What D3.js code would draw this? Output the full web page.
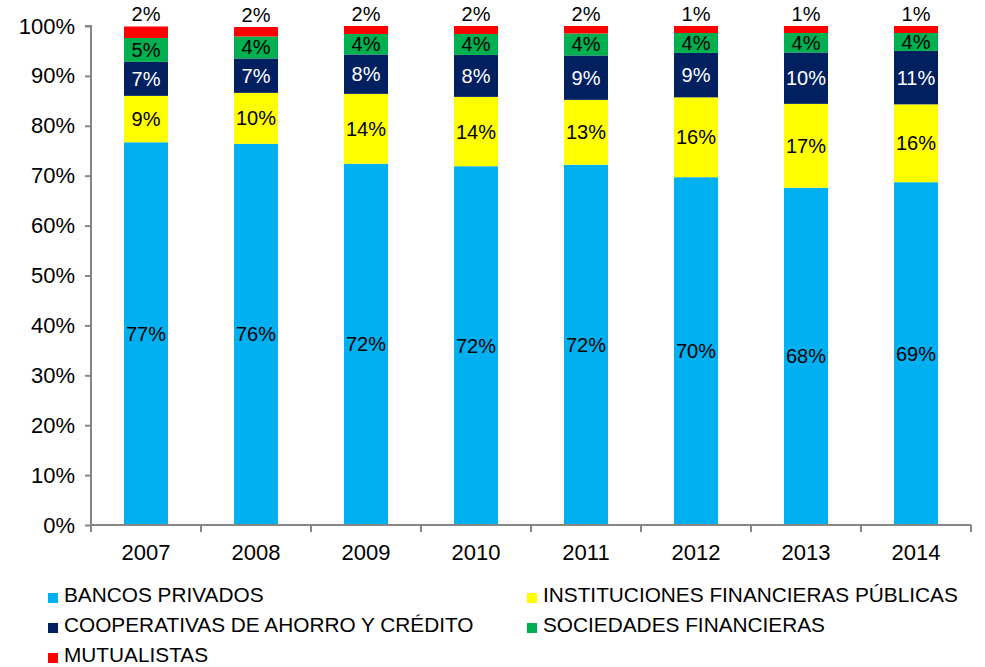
<!DOCTYPE html>
<html>
<head>
<meta charset="utf-8">
<script src="https://cdn.jsdelivr.net/npm/d3@7"></script>
<style>
  body { margin: 0; background: #fff; }
  text { font-family: "Liberation Sans", Arial, sans-serif; }
</style>
</head>
<body>
<div id="chart"></div>
<script>
var years = ["2007", "2008", "2009", "2010", "2011", "2012", "2013", "2014"];
var series = ["BANCOS PRIVADOS", "INSTITUCIONES FINANCIERAS PÚBLICAS", "COOPERATIVAS DE AHORRO Y CRÉDITO", "SOCIEDADES FINANCIERAS", "MUTUALISTAS"];
var colors = ["#00B0F0", "#FFFF00", "#002060", "#00B050", "#FF0000"];

// percentages per year
var bancos = [76.7, 76.4, 72.4, 71.9, 72.2, 69.7, 67.6, 68.7];
var instituciones = [9.3, 10.2, 14.0, 13.9, 13.0, 16.0, 16.8, 15.6];
var cooperativas = [6.8, 6.9, 7.9, 8.4, 8.9, 8.9, 10.3, 10.7];
var sociedades = [4.8, 4.4, 4.1, 4.2, 4.4, 4.0, 3.9, 3.6];
var mutualistas = [2.3, 1.9, 1.6, 1.6, 1.6, 1.4, 1.4, 1.4];

var yTicks = [0, 10, 20, 30, 40, 50, 60, 70, 80, 90, 100];

var width = 985, height = 667;
var margin = {top: 26, left: 91, right: 14, bottom: 142};

var svg = d3.select("#chart").append("svg")
    .attr("width", width)
    .attr("height", height);

var rows = years.map(function(y, i){
    return {year: y, s0: bancos[i], s1: instituciones[i], s2: cooperativas[i], s3: sociedades[i], s4: mutualistas[i]};
});
var keys = ["s0", "s1", "s2", "s3", "s4"];
var stacked = d3.stack().keys(keys)(rows);

var x = d3.scaleBand()
    .domain(years)
    .range([margin.left, width - margin.right])
    .paddingInner(0.6)
    .paddingOuter(0.3);

var y = d3.scaleLinear()
    .domain([0, 100])
    .range([height - margin.bottom, margin.top]);

// bars
var layer = svg.selectAll(".layer")
    .data(stacked).enter().append("g")
    .attr("class", "layer")
    .attr("fill", function(d, i){ return colors[i]; });

layer.selectAll("rect")
    .data(function(d){ return d; }).enter().append("rect")
    .attr("x", function(d){ return x(d.data.year); })
    .attr("width", x.bandwidth())
    .attr("y", function(d){ return y(Math.min(d[1], 100)); })
    .attr("height", function(d){ return y(d[0]) - y(Math.min(d[1], 100)); });

// data labels
layer.each(function(s, i){
    d3.select(this).selectAll("text")
        .data(s).enter().append("text")
        .attr("x", function(d){ return x(d.data.year) + x.bandwidth() / 2; })
        .attr("y", function(d){
            if (i === 4) return y(d[1]) - 5;
            return (y(d[0]) + y(d[1])) / 2 + 7;
        })
        .attr("text-anchor", "middle")
        .attr("font-size", "20px")
        .attr("fill", i === 2 ? "#fff" : "#000")
        .text(function(d){ return Math.round(d[1] - d[0]) + "%"; });
});

// axes
var yAxis = svg.append("g")
    .attr("transform", "translate(" + margin.left + ",0)")
    .call(d3.axisLeft(y).tickValues(yTicks).tickSize(6).tickPadding(10)
        .tickFormat(function(d){ return d + "%"; }));
yAxis.select(".domain").attr("stroke", "#868686").attr("stroke-width", 2).attr("d", "M-6," + y(100) + "H0V" + y(0));
yAxis.selectAll(".tick line").attr("stroke", "#868686").attr("stroke-width", 2);
yAxis.selectAll(".tick text").attr("font-size", "22px").attr("fill", "#000").attr("font-family", "Liberation Sans, Arial, sans-serif");

var xAxis = svg.append("g")
    .attr("transform", "translate(0," + y(0) + ")");
xAxis.append("line")
    .attr("x1", margin.left).attr("x2", x.range()[1])
    .attr("stroke", "#868686").attr("stroke-width", 2);
xAxis.selectAll(".xtick")
    .data(years.concat(["end"])).enter().append("line")
    .attr("x1", function(d, i){ return margin.left + i * x.step(); })
    .attr("x2", function(d, i){ return margin.left + i * x.step(); })
    .attr("y1", 0).attr("y2", 7)
    .attr("stroke", "#868686").attr("stroke-width", 2);
xAxis.selectAll(".xlabel")
    .data(years).enter().append("text")
    .attr("x", function(d){ return x(d) + x.bandwidth() / 2; })
    .attr("y", 35)
    .attr("text-anchor", "middle")
    .attr("font-size", "22px")
    .text(function(d){ return d; });

// legend
var legendPos = [[48, 602], [527, 602], [48, 632], [527, 632], [48, 662]];
var legend = svg.selectAll(".legend")
    .data(series).enter().append("g")
    .attr("class", "legend")
    .attr("transform", function(d, i){ return "translate(" + legendPos[i][0] + "," + legendPos[i][1] + ")"; });
legend.append("rect")
    .attr("x", 0).attr("y", -9)
    .attr("width", 10).attr("height", 10)
    .attr("fill", function(d, i){ return colors[i]; });
legend.append("text")
    .attr("x", 16).attr("y", 0)
    .attr("font-size", "20.8px")
    .text(function(d){ return d; });
</script>
</body>
</html>
